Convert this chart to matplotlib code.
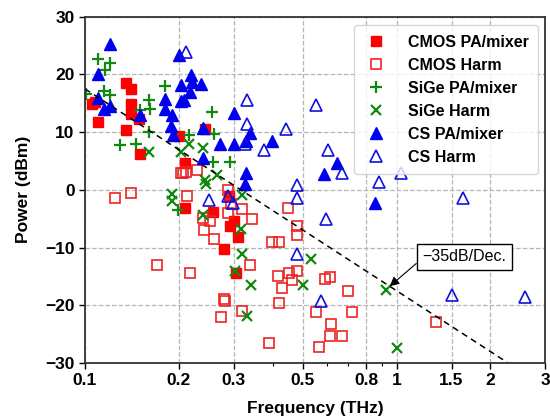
import numpy as np
import matplotlib
matplotlib.use("Agg")
import matplotlib.pyplot as plt
from matplotlib.ticker import FixedLocator, NullFormatter

plt.rcParams["font.family"] = ["Liberation Sans", "DejaVu Sans"]
plt.rcParams["font.weight"] = "bold"

# CMOS PA/mixer (filled red squares)
cmos_pa_f = [0.105, 0.108, 0.110, 0.135, 0.140, 0.140, 0.140, 0.135, 0.149, 0.150,
             0.200, 0.243, 0.210, 0.210, 0.257, 0.292, 0.300, 0.310, 0.280, 0.305, 0.290]
cmos_pa_p = [14.8, 15.2, 11.8, 18.5, 17.5, 14.8, 13.2, 10.4, 12.3, 6.3,
             9.4, 10.5, 4.6, -3.2, -3.9, -6.2, -5.4, -8.1, -10.3, -14.4, -1.0]

# CMOS harmonic (open red squares)
cmos_h_f = [0.125, 0.140, 0.170, 0.203, 0.207, 0.211, 0.229, 0.213, 0.217, 0.240,
            0.241, 0.251, 0.259, 0.288, 0.295, 0.288, 0.320, 0.344, 0.338, 0.279,
            0.281, 0.273, 0.318, 0.390, 0.398, 0.419, 0.416, 0.451, 0.460, 0.430,
            0.419, 0.480, 0.449, 0.480, 0.480, 0.588, 0.610, 0.698, 0.550, 0.719,
            0.618, 0.610, 0.670, 0.562, 1.334]
cmos_h_p = [-1.5, -0.6, -13.0, 2.9, 3.0, 3.1, 3.5, -1.0, -14.4, -4.9,
            -6.9, -5.4, -8.5, 0.0, -2.5, -4.0, -3.3, -5.1, -13.0, -19.0,
            -19.3, -22.0, -21.0, -26.6, -9.1, -9.1, -15.0, -14.4, -15.7, -17.0,
            -19.6, -14.0, -3.2, -6.2, -7.8, -15.4, -15.1, -17.6, -21.2, -21.2,
            -23.2, -25.4, -25.3, -27.3, -22.9]

# SiGe PA/mixer (+)
sige_pa_f = [0.101, 0.110, 0.116, 0.120, 0.115, 0.120, 0.150, 0.160, 0.162, 0.160,
             0.130, 0.146, 0.180, 0.216, 0.256, 0.259, 0.257, 0.292, 0.199]
sige_pa_p = [16.6, 22.6, 20.8, 22.0, 17.2, 16.4, 13.8, 15.6, 14.0, 10.0,
             7.7, 8.0, 18.0, 9.5, 13.5, 9.6, 4.9, 4.9, -3.5]

# SiGe harmonic (x)
sige_h_f = [0.160, 0.203, 0.215, 0.240, 0.243, 0.245, 0.266, 0.320, 0.190, 0.190,
            0.240, 0.317, 0.318, 0.303, 0.342, 0.331, 0.500, 0.533, 0.922, 1.000]
sige_h_p = [6.5, 6.5, 8.0, 7.2, 1.7, 1.0, 2.6, -0.9, -0.7, -1.9,
            -4.3, -6.8, -11.1, -14.1, -16.5, -21.9, -16.5, -12.0, -17.3, -27.4]

# CS PA/mixer (filled blue triangles)
cs_pa_f = [0.120, 0.110, 0.110, 0.115, 0.120, 0.150, 0.200, 0.203, 0.203, 0.208,
           0.219, 0.220, 0.217, 0.235, 0.180, 0.180, 0.190, 0.189, 0.192, 0.239,
           0.271, 0.300, 0.300, 0.338, 0.328, 0.397, 0.240, 0.328, 0.326, 0.645,
           0.584, 0.850]
cs_pa_p = [25.3, 20.1, 16.0, 14.0, 14.5, 13.0, 23.4, 18.2, 15.4, 15.6,
           19.9, 18.7, 17.0, 18.3, 15.7, 14.0, 13.0, 11.0, 9.5, 10.7,
           8.0, 13.4, 8.0, 9.9, 8.4, 8.4, 5.5, 3.0, 1.0, 4.7,
           2.8, -2.2]

# CS harmonic (open blue triangles)
cs_h_f = [0.211, 0.330, 0.331, 0.326, 0.376, 0.440, 0.480, 0.480, 0.250, 0.288,
          0.299, 0.480, 0.550, 0.603, 0.670, 0.876, 1.035, 1.632, 0.592, 0.574,
          1.504, 2.585]
cs_h_p = [23.9, 15.6, 11.4, 8.0, 6.9, 10.6, 0.9, -1.5, -1.7, -1.0,
          -2.3, -11.2, 14.7, 6.9, 3.0, 1.4, 3.0, -1.5, -5.1, -19.3,
          -18.3, -18.6]

# trend line: -35 dB/decade
slope = -35.0
p_at_01 = 17.5

xticks = [0.1, 0.2, 0.3, 0.5, 0.8, 1, 1.5, 2, 3]
xticklabels = ["0.1", "0.2", "0.3", "0.5", "0.8", "1", "1.5", "2", "3"]
xminor = [0.4, 0.6, 0.7, 0.9]

fig = plt.figure(figsize=(5.5, 4.2), dpi=100)
ax = fig.add_axes([0.1545, 0.136, 0.837, 0.824])

ax.plot(cmos_pa_f, cmos_pa_p, "s", color="#ff0000", ms=6.5, ls="none", label="CMOS PA/mixer")
ax.plot(cmos_h_f, cmos_h_p, "s", mfc="none", mec="#ee2222", mew=1.2, ms=7.5, ls="none", label="CMOS Harm")
ax.plot(sige_pa_f, sige_pa_p, "+", color="#118811", mew=1.6, ms=9, ls="none", label="SiGe PA/mixer")
ax.plot(sige_h_f, sige_h_p, "x", color="#118811", mew=1.6, ms=7, ls="none", label="SiGe Harm")
ax.plot(cs_pa_f, cs_pa_p, "^", color="#0000ee", ms=8, ls="none", label="CS PA/mixer")
ax.plot(cs_h_f, cs_h_p, "^", mfc="none", mec="#1111dd", mew=1.2, ms=8, ls="none", label="CS Harm")

f_end = 0.1 * 10 ** ((p_at_01 + 30) / -slope)
fl = np.array([0.1, f_end])
ax.plot(fl, p_at_01 + slope * np.log10(fl / 0.1), color="black", ls=(0, (4, 3)), lw=1.1)

ax.annotate("\u221235dB/Dec.", xy=(0.95, p_at_01 + slope * np.log10(0.95 / 0.1)),
            xytext=(1.65, -11.6), textcoords="data", ha="center", va="center",
            fontsize=11.5, fontweight="normal",
            bbox=dict(boxstyle="square,pad=0.35", fc="white", ec="black", lw=1.0),
            arrowprops=dict(arrowstyle="-|>", color="black", lw=0.8,
                            mutation_scale=14, relpos=(0, 0.4), shrinkA=0, shrinkB=0))

ax.set_xscale("log")
ax.set_xlim(0.1, 3)
ax.set_ylim(-30, 30)
ax.xaxis.set_major_locator(FixedLocator(xticks))
ax.set_xticklabels(xticklabels)
ax.xaxis.set_minor_locator(FixedLocator(xminor))
ax.xaxis.set_minor_formatter(NullFormatter())
ax.set_yticks(np.arange(-30, 31, 10))

ax.grid(True, which="major", color="#b5b5b5", ls="--", lw=0.9)
ax.tick_params(axis="both", which="major", labelsize=12.5, direction="out", length=4, width=1.0)
ax.tick_params(axis="x", which="minor", direction="out", length=2.5, width=0.8)
for lab in ax.get_xticklabels() + ax.get_yticklabels():
    lab.set_fontweight("bold")
for sp in ax.spines.values():
    sp.set_color("#333333")
    sp.set_linewidth(1.3)

ax.set_xlabel("Frequency (THz)", fontsize=12.5, fontweight="bold", labelpad=9)
ax.set_ylabel("Power (dBm)", fontsize=12.5, fontweight="bold", labelpad=10)

leg = ax.legend(loc="upper right", bbox_to_anchor=(0.985, 0.976), borderaxespad=0,
                prop={"weight": "bold", "size": 11.5}, frameon=True, fancybox=True,
                edgecolor="#cccccc", borderpad=0.6, labelspacing=0.5,
                handletextpad=1.2, handlelength=1.6)

fig.savefig("out.png", dpi=100)
